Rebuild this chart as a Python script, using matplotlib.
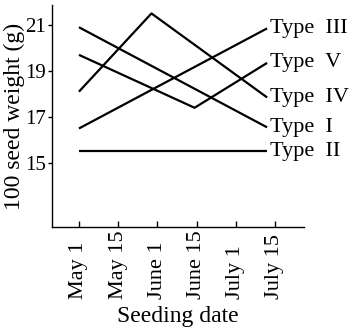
import matplotlib

matplotlib.use("Agg")
import matplotlib.pyplot as plt

# x positions in tick units: 0 = May 1, 1 = May 15, ... 5 = July 15
TICK_LABELS = ["May 1", "May 15", "June 1", "June 15", "July 1", "July 15"]
Y_TICKS = [15, 17, 19, 21]

TYPE_NAMES = ["Type  III", "Type  V", "Type  IV", "Type  I", "Type  II"]
TYPE_X = [
    [0.0, 4.8],
    [0.0, 2.95, 4.8],
    [0.0, 1.85, 4.8],
    [0.0, 4.8],
    [0.0, 4.8],
]
TYPE_Y = [
    [16.5, 20.85],
    [19.7, 17.4, 19.35],
    [18.1, 21.5, 17.85],
    [20.9, 16.55],
    [15.5, 15.5],
]

plt.rcParams["font.family"] = ["Liberation Serif", "DejaVu Serif"]

fig = plt.figure(figsize=(3.53, 3.28), dpi=100)
ax = fig.add_axes([0.147, 0.308, 0.714, 0.677])

for name, xs, ys in zip(TYPE_NAMES, TYPE_X, TYPE_Y):
    ax.plot(xs, ys, color="black", linewidth=1.6, solid_capstyle="butt")
    ax.annotate(name, (xs[-1], ys[-1]), xytext=(2, 0), textcoords="offset points",
                ha="left", va="center", fontsize=16)

ax.set_xlim(-0.69, 5.74)
ax.set_ylim(12.22, 21.87)
ax.set_xticks(range(len(TICK_LABELS)))
ax.set_xticklabels(TICK_LABELS, rotation=90, fontsize=16)
# labels start at a common baseline below the axis and grow upward
for label in ax.get_xticklabels():
    label.set_verticalalignment("bottom")
ax.set_yticks(Y_TICKS)
ax.set_yticklabels([str(v) for v in Y_TICKS], fontsize=15)
ax.tick_params(axis="x", direction="in", length=4, width=1, pad=52)
ax.tick_params(axis="y", direction="out", length=3, width=1, pad=1)

for side in ["top", "right"]:
    ax.spines[side].set_visible(False)
for side in ["left", "bottom"]:
    ax.spines[side].set_linewidth(1)

ax.set_xlabel("Seeding date", fontsize=17)
ax.xaxis.set_label_coords(0.5, -0.355)
ax.set_ylabel("100 seed weight (g)", fontsize=17)
ax.yaxis.set_label_coords(-0.105, 0.5)

fig.savefig("out.png", dpi=100)
